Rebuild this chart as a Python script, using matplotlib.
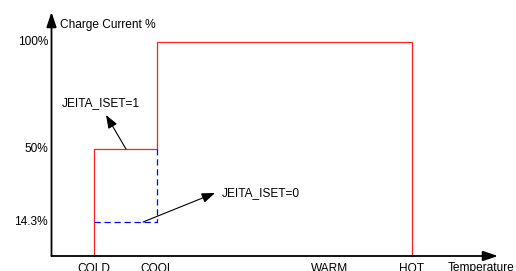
import matplotlib
matplotlib.use("Agg")
import matplotlib.pyplot as plt
import numpy as np

plt.rcParams['font.family'] = ['Liberation Sans', 'DejaVu Sans']

# Data
temp_labels = ["COLD", "COOL", "WARM", "HOT"]
temp_x = [94, 157, 330, 412]          # horizontal positions of temperature marks
iset1_x = [94, 94, 157, 157, 412, 412]
iset1_y = [0, 50, 50, 100, 100, 0]    # JEITA_ISET=1 charge current %
iset0_x = [94, 157, 157]
iset0_y = [14.3, 14.3, 50]            # JEITA_ISET=0 charge current %
y_ticks = [100, 50, 14.3]
y_tick_labels = ["100%", "50%", "14.3%"]

W, H = 516, 271
fig = plt.figure(figsize=(W / 100, H / 100), dpi=100)
ax = fig.add_axes([0, 0, 1, 1])

# diagram (not-to-scale) vertical axis: percent -> pixel height above axis line
pct_k = np.array([-50, 0, 14.3, 50, 100, 200])
pix_k = np.array([-107, 0, 34, 107, 214, 428])
fwd = lambda v: np.interp(v, pct_k, pix_k)
inv = lambda p: np.interp(p, pix_k, pct_k)
ax.set_yscale('function', functions=(fwd, inv))
y0px = 256
ax.set_xlim(0, W)
ax.set_ylim(inv(-(H - y0px)), inv(y0px))
ax.axis('off')

def py(pix):
    return float(inv(y0px - pix))

fs = 8.6
# axes arrows
ax.annotate("", xy=(51.5, py(12)), xytext=(51.5, 0),
            arrowprops=dict(arrowstyle="-|>,head_length=0.9,head_width=0.3",
                            color="black", lw=1.3, shrinkA=0, shrinkB=0))
ax.annotate("", xy=(498, 0), xytext=(51.5, 0),
            arrowprops=dict(arrowstyle="-|>,head_length=0.9,head_width=0.3",
                            color="black", lw=1.3, shrinkA=0, shrinkB=0))

ax.plot(iset1_x, iset1_y, color="#ff2020", lw=0.9, solid_joinstyle='miter')
ax.plot(iset0_x, iset0_y, color="#0000ff", lw=0.9, ls=(0, (5, 3)))

for v, lab in zip(y_ticks, y_tick_labels):
    ax.text(48, v, lab, ha='right', va='center', fontsize=fs)

for x, lab in zip(temp_x, temp_labels):
    ax.text(x, py(271.5), lab, ha='center', va='baseline', fontsize=fs)
ax.text(448, py(271.5), "Temperature", ha='left', va='baseline', fontsize=fs)
ax.text(60, py(25), "Charge Current %", ha='left', va='center', fontsize=fs)

ax.text(62, py(103), "JEITA_ISET=1", ha='left', va='center', fontsize=fs)
ax.annotate("", xy=(106, py(115)), xytext=(126, 50),
            arrowprops=dict(arrowstyle="-|>,head_length=0.8,head_width=0.3",
                            color="black", lw=0.8, shrinkA=0, shrinkB=0))
ax.text(222, py(193), "JEITA_ISET=0", ha='left', va='center', fontsize=fs)
ax.annotate("", xy=(215, py(193)), xytext=(143, 14.3),
            arrowprops=dict(arrowstyle="-|>,head_length=0.8,head_width=0.3",
                            color="black", lw=0.8, shrinkA=0, shrinkB=0))

fig.savefig("out.png", dpi=100)
